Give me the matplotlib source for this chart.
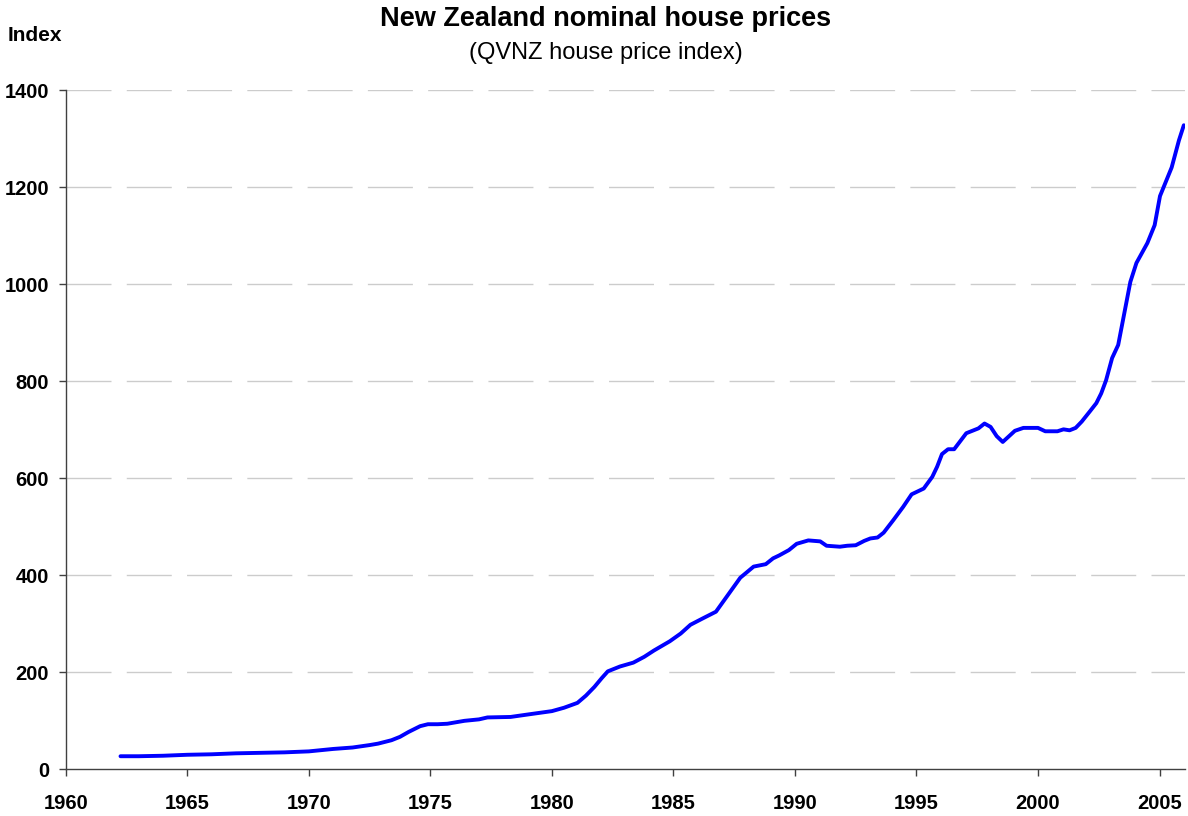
"""
New Zealand nominal house prices (QVNZ house price index)
Line chart redrawn with Matplotlib
"""

import matplotlib
matplotlib.use("Agg")
import matplotlib.pyplot as plt

# Data
years = [
    1962.25, 1963.0, 1964.0, 1965.0, 1966.0, 1967.0, 1968.0, 1969.0, 1970.0,
    1971.0, 1971.8, 1972.5, 1972.85, 1973.4, 1973.75, 1974.1, 1974.58, 1974.9,
    1975.3, 1975.7, 1976.4, 1977.0, 1977.35, 1978.3, 1979.0, 1980.0, 1980.5,
    1981.05, 1981.4, 1981.75, 1982.05, 1982.3, 1982.8, 1983.35, 1983.8, 1984.2,
    1984.85, 1985.3, 1985.7, 1986.2, 1986.75, 1987.25, 1987.75, 1988.3, 1988.8,
    1989.1, 1989.35, 1989.75, 1990.07, 1990.55, 1991.04, 1991.3, 1991.85,
    1992.15, 1992.5, 1992.85, 1993.1, 1993.4, 1993.65, 1994.05, 1994.45, 1994.8,
    1995.3, 1995.65, 1995.85, 1996.05, 1996.3, 1996.55, 1997.05, 1997.55,
    1997.8, 1998.05, 1998.3, 1998.55, 1999.05, 1999.4, 2000.0, 2000.3, 2000.8,
    2001.05, 2001.3, 2001.55, 2001.8, 2002.15, 2002.4, 2002.6, 2002.8, 2003.05,
    2003.3, 2003.55, 2003.8, 2004.05, 2004.5, 2004.8, 2005.02, 2005.5, 2005.8,
    2006.0,
]
index_values = [
    27, 27, 28, 30, 31, 33, 34, 35, 37,
    42, 45, 50, 53, 60, 67, 77, 89, 93,
    93, 94, 100, 103, 107, 108, 113, 120, 127,
    137, 152, 170, 188, 202, 212, 220, 232, 245,
    264, 280, 298, 311, 325, 360, 395, 418, 423,
    435, 441, 452, 465, 472, 470, 461, 459,
    461, 462, 471, 476, 478, 488, 514, 541, 567,
    579, 603, 624, 650, 660, 660, 693, 703,
    713, 706, 687, 675, 698, 704, 704, 697, 697,
    701, 699, 704, 717, 739, 755, 775, 802, 848,
    875, 940, 1005, 1044, 1085, 1122, 1182, 1241, 1297,
    1328,
]
x_ticks = [1960, 1965, 1970, 1975, 1980, 1985, 1990, 1995, 2000, 2005]
y_ticks = [0, 200, 400, 600, 800, 1000, 1200, 1400]

plt.rcParams["font.family"] = ["Liberation Sans", "DejaVu Sans"]
plt.rcParams["lines.scale_dashes"] = False

fig = plt.figure(figsize=(11.88, 8.16), dpi=100)
ax = fig.add_axes([0.0554, 0.0572, 0.9421, 0.8321])

# Grille horizontale en tirets gris
for y in y_ticks[1:]:
    ax.axhline(y, color="#cccccc", linewidth=1.0,
               linestyle=(0, (32.4, 11.0)), zorder=1)

ax.plot(years, index_values, color="#0000ff", linewidth=2.8,
        solid_joinstyle="round", solid_capstyle="round", zorder=3)

ax.set_xlim(1960, 2006.05)
ax.set_ylim(0, 1400)
ax.set_xticks(x_ticks)
ax.set_yticks(y_ticks)

for side in ["top", "right"]:
    ax.spines[side].set_visible(False)
for side in ["left", "bottom"]:
    ax.spines[side].set_color("#404040")
    ax.spines[side].set_linewidth(1.0)

ax.tick_params(axis="x", direction="out", length=5, width=1.0,
               color="#404040", pad=13, labelsize=14.5)
ax.tick_params(axis="y", direction="out", length=5, width=1.0,
               color="#404040", pad=7, labelsize=14.5)
for lbl in ax.get_xticklabels() + ax.get_yticklabels():
    lbl.set_fontweight("bold")

fig.text(0.510, 0.977, "New Zealand nominal house prices", ha="center",
         va="center", fontsize=19.5, fontweight="bold")
fig.text(0.510, 0.935, "(QVNZ house price index)", ha="center",
         va="center", fontsize=17)
fig.text(0.006, 0.957, "Index", ha="left", va="center", fontsize=15,
         fontweight="bold")

plt.savefig("out.png", dpi=100)
plt.close()
